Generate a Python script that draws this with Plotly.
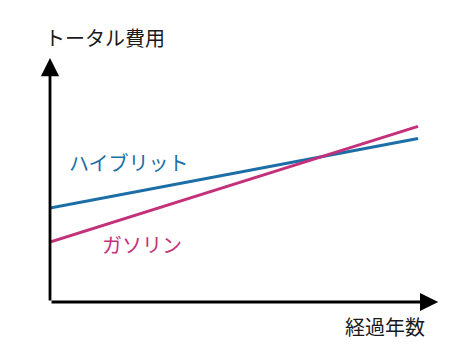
import plotly.graph_objects as go

years = [0, 10]
hybrid = [38.5, 67.0]
gasoline = [24.6, 72.0]
x_max = 10.57
y_max = 100

blue = "#1c6ea6"
magenta = "#c3317a"
font = "Noto Sans CJK JP"

fig = go.Figure()
fig.add_trace(go.Scatter(x=years, y=hybrid, mode="lines",
                         line=dict(color=blue, width=3), hoverinfo="skip"))
fig.add_trace(go.Scatter(x=years, y=gasoline, mode="lines",
                         line=dict(color=magenta, width=3), hoverinfo="skip"))

# axes with arrows
fig.add_annotation(x=0, y=y_max, ax=0, ay=0, xref="x", yref="y", axref="x", ayref="y",
                   showarrow=True, arrowhead=2, arrowsize=1.3, arrowwidth=2.8,
                   arrowcolor="#000", text="")
fig.add_annotation(x=x_max * 0.998, y=0, ax=0, ay=0, xref="x", yref="y", axref="x", ayref="y",
                   showarrow=True, arrowhead=2, arrowsize=1.3, arrowwidth=2.8,
                   arrowcolor="#000", text="")

fig.add_annotation(x=0.141, y=1.086, xref="paper", yref="paper", text="トータル費用",
                   xanchor="center", yanchor="middle",
                   showarrow=False, font=dict(family=font, size=20, color="#1a1a1a"))
fig.add_annotation(x=0.861, y=-0.102, xref="paper", yref="paper", text="経過年数",
                   xanchor="center", yanchor="middle",
                   showarrow=False, font=dict(family=font, size=20, color="#1a1a1a"))
fig.add_annotation(x=2.15, y=57.0, text="ハイブリット", showarrow=False,
                   xanchor="center", yanchor="middle",
                   font=dict(family=font, size=20, color=blue))
fig.add_annotation(x=2.49, y=23.4, text="ガソリン", showarrow=False,
                   xanchor="center", yanchor="middle",
                   font=dict(family=font, size=20, color=magenta))

fig.update_layout(
    width=476, height=349,
    margin=dict(l=50, r=37, t=58, b=47),
    paper_bgcolor="white", plot_bgcolor="white",
    showlegend=False,
    xaxis=dict(range=[0, x_max], visible=False, fixedrange=True),
    yaxis=dict(range=[0, y_max], visible=False, fixedrange=True),
)
fig.write_html("out.html")
